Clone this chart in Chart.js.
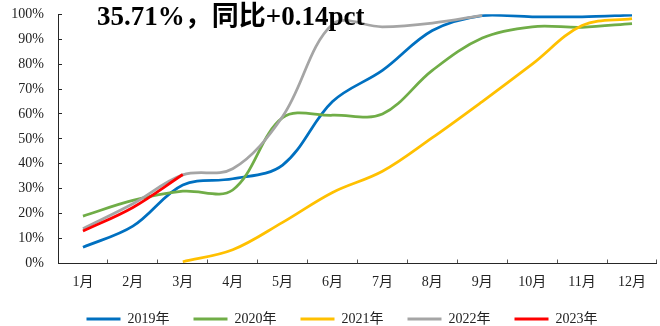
<!DOCTYPE html>
<html>
<head>
<meta charset="utf-8">
<script src="https://cdn.jsdelivr.net/npm/chart.js@4/dist/chart.umd.min.js"></script>
<style>
  html, body { margin: 0; padding: 0; background: #ffffff; }
  #wrap { width: 660px; height: 326px; position: relative; }
</style>
</head>
<body>
<div id="wrap"><canvas id="c" width="660" height="326"></canvas></div>
<script>
// Monthly cumulative progress (%), one array per year
const months = ['1月', '2月', '3月', '4月', '5月', '6月', '7月', '8月', '9月', '10月', '11月', '12月'];
const years = ['2019年', '2020年', '2021年', '2022年', '2023年'];
const s2019 = [6.5, 15, 31.5, 34, 39.5, 65, 77.5, 93.5, 99.5, 99, 99, 99.7];
const s2020 = [19, 25.3, 29, 29.5, 58.5, 59.5, 60, 77.5, 90.5, 95, 94.8, 96.3];
const s2021 = [null, null, 0.7, 5.5, 16.5, 28.5, 37, 50.5, 65, 80, 95.5, 98.3];
const s2022 = [14, 24, 35.57, 38, 59, 96, 95, 96.5, 99.6, null, null, null];
const s2023 = [13, 22.5, 35.71, null, null, null, null, null, null, null, null, null];
const yTickValues = [0, 10, 20, 30, 40, 50, 60, 70, 80, 90, 100];

const colors = ['#0070C0', '#70AD47', '#FFC000', '#A5A5A5', '#FF0000'];
const seriesList = [s2019, s2020, s2021, s2022, s2023];

// Headline: latest month value and year-on-year change in percentage points
const latest = s2023[2];
const diff = latest - s2022[2];
const headline = latest.toFixed(2) + '%，同比' + (diff >= 0 ? '+' : '') + diff.toFixed(2) + 'pct';

const serif = "'Liberation Serif', 'Noto Sans CJK SC', serif";

const headlinePlugin = {
  id: 'headline',
  afterLayout(chart) {
    // nudge the legend row slightly right of the canvas centre
    chart.legend.left += 12;
    chart.legend.right += 12;
  },
  afterDraw(chart) {
    const ctx = chart.ctx;
    ctx.save();
    ctx.font = "bold 27px " + serif;
    ctx.fillStyle = '#000000';
    ctx.textAlign = 'left';
    ctx.textBaseline = 'alphabetic';
    ctx.fillText(headline, 97, 24.5);
    ctx.restore();
  }
};

const datasets = seriesList.map((data, i) => ({
  label: years[i],
  data: data,
  borderColor: colors[i],
  backgroundColor: colors[i],
  borderWidth: 2.75,
  pointRadius: 0,
  pointHoverRadius: 0,
  tension: 0.35,
  fill: false,
  order: seriesList.length - 1 - i
}));

new Chart(document.getElementById('c'), {
  type: 'line',
  data: { labels: months, datasets: datasets },
  plugins: [headlinePlugin],
  options: {
    responsive: false,
    animation: false,
    devicePixelRatio: 1,
    layout: { padding: { left: 0, right: 0, top: 14.3, bottom: -10 } },
    plugins: {
      title: { display: false },
      tooltip: { enabled: false },
      legend: {
        position: 'bottom',
        labels: {
          boxWidth: 34,
          boxHeight: 3,
          padding: 24,
          color: '#222222',
          font: { family: serif, size: 14 },
          sort: (a, b) => a.datasetIndex - b.datasetIndex,
          generateLabels(chart) {
            const items = Chart.defaults.plugins.legend.labels.generateLabels(chart);
            return items.map(it => Object.assign(it, { lineWidth: 0, fillStyle: it.strokeStyle }));
          }
        }
      }
    },
    scales: {
      x: {
        type: 'category',
        offset: true,
        border: { display: true, color: '#262626', width: 1 },
        grid: {
          display: true,
          offset: true,
          drawOnChartArea: false,
          drawTicks: true,
          tickLength: -4,
          color: '#595959'
        },
        ticks: {
          color: '#222222',
          font: { family: serif, size: 14 },
          padding: 14,
          maxRotation: 0,
          autoSkip: false
        },
        afterFit(scale) { scale.height = 24.5; }
      },
      y: {
        min: 0,
        max: 100,
        border: { display: true, color: '#262626', width: 1 },
        grid: {
          display: true,
          drawOnChartArea: false,
          drawTicks: true,
          tickLength: -4,
          color: '#262626'
        },
        afterBuildTicks(scale) {
          scale.ticks = yTickValues.map(v => ({ value: v }));
        },
        ticks: {
          color: '#222222',
          font: { family: serif, size: 14 },
          padding: 18,
          callback: v => v + '%'
        },
        afterFit(scale) {
          scale.width = 58;
          scale.paddingTop = 0;
          scale.paddingBottom = 0;
        }
      }
    }
  }
});
</script>
</body>
</html>
